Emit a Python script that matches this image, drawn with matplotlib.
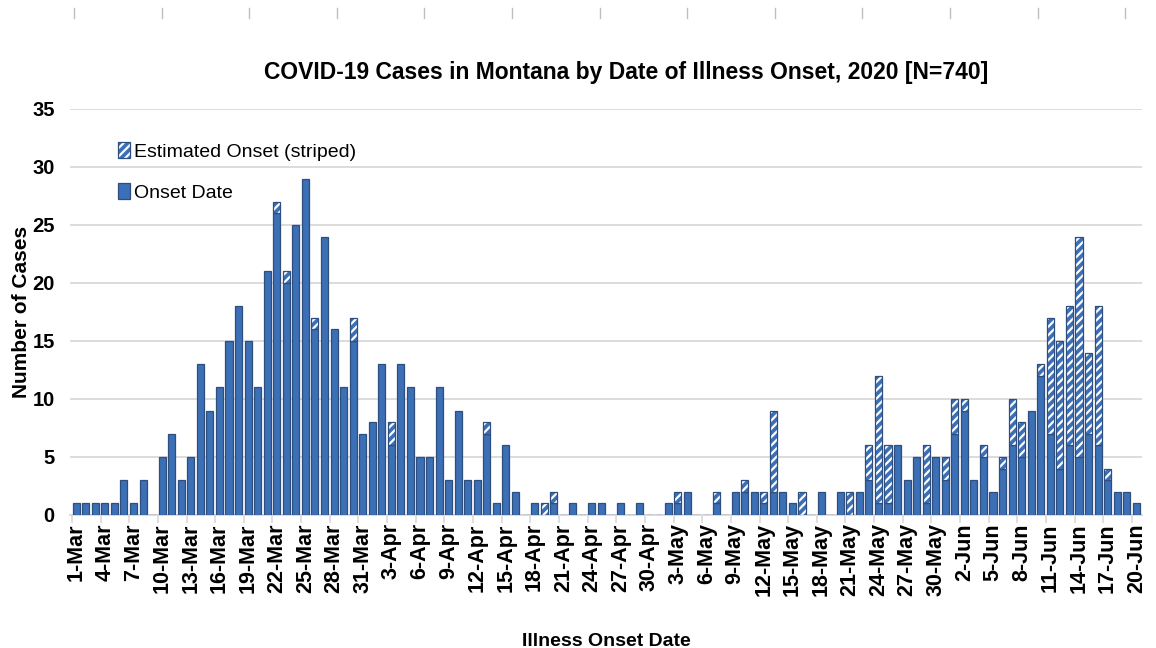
import matplotlib
matplotlib.use("Agg")
import matplotlib.pyplot as plt
import numpy as np
from matplotlib.patches import Patch
from matplotlib.lines import Line2D
from matplotlib.legend_handler import HandlerTuple
import datetime as dt

# ---- data ----
start_date = dt.date(2020, 3, 1)
n_days = 112
onset_known = [
    # March
    1, 1, 1, 1, 1, 3, 1, 3, 0, 5, 7, 3, 5, 13, 9, 11, 15, 18, 15, 11,
    21, 26, 20, 25, 29, 16, 24, 16, 11, 15, 7,
    # April
    8, 13, 6, 13, 11, 5, 5, 11, 3, 9, 3, 3, 7, 1, 6, 2, 0, 1, 0, 1,
    0, 1, 0, 1, 1, 0, 1, 0, 1, 0,
    # May
    0, 1, 1, 2, 0, 0, 1, 0, 2, 2, 2, 1, 2, 2, 1, 0, 0, 2, 0, 2,
    0, 2, 3, 1, 1, 6, 3, 5, 1, 5, 3,
    # June
    7, 9, 3, 5, 2, 4, 6, 5, 9, 12, 7, 4, 6, 5, 7, 6, 3, 2, 2, 1,
]
onset_estimated = [
    # March
    0, 0, 0, 0, 0, 0, 0, 0, 0, 0, 0, 0, 0, 0, 0, 0, 0, 0, 0, 0,
    0, 1, 1, 0, 0, 1, 0, 0, 0, 2, 0,
    # April
    0, 0, 2, 0, 0, 0, 0, 0, 0, 0, 0, 0, 1, 0, 0, 0, 0, 0, 1, 1,
    0, 0, 0, 0, 0, 0, 0, 0, 0, 0,
    # May
    0, 0, 1, 0, 0, 0, 1, 0, 0, 1, 0, 1, 7, 0, 0, 2, 0, 0, 0, 0,
    2, 0, 3, 11, 5, 0, 0, 0, 5, 0, 2,
    # June
    3, 1, 0, 1, 0, 1, 4, 3, 0, 1, 10, 11, 12, 19, 7, 12, 1, 0, 0, 0,
]
dates = [start_date + dt.timedelta(days=i) for i in range(n_days)]
date_labels = [f"{d.day}-{d.strftime('%b')}" for d in dates]

title = "COVID-19 Cases in Montana by Date of Illness Onset, 2020 [N=740]"
y_label = "Number of Cases"
x_label = "Illness Onset Date"
legend_labels = ["Estimated Onset (striped)", "Onset Date"]

# ---- style ----
BLUE = "#3B6FB6"
EDGE = "#2E4E7E"
GRID = "#D9D9D9"
FONT = ["Liberation Sans", "DejaVu Sans"]
plt.rcParams["hatch.linewidth"] = 1.6

fig = plt.figure(figsize=(11.56, 6.48), dpi=100)
ax = fig.add_axes([70 / 1156, 133 / 648, (1142 - 70) / 1156, (539 - 133) / 648])

x = np.arange(n_days)
known = np.array(onset_known)
est = np.array(onset_estimated)
w = 0.74

ax.bar(x, known, width=w, color=BLUE, edgecolor=EDGE, linewidth=0.9, zorder=3)
ax.bar(x, est, width=w, bottom=known, color=BLUE, edgecolor="white",
       hatch="////", linewidth=0, zorder=3)
mask = est > 0
ax.bar(x[mask], est[mask], width=w, bottom=known[mask], facecolor="none",
       edgecolor=EDGE, linewidth=0.9, zorder=4)

ax.set_xlim(-0.65, 111.6)
ax.set_ylim(0, 35)
ax.set_yticks(range(0, 36, 5))
ax.yaxis.grid(True, color=GRID, linewidth=1.3, zorder=0)
ax.set_axisbelow(True)
for s in ["top", "right", "left"]:
    ax.spines[s].set_visible(False)
ax.spines["bottom"].set_color(GRID)
ax.spines["bottom"].set_linewidth(1.3)

tick_idx = list(range(0, n_days, 3))
ax.set_xticks(tick_idx)
ax.set_xticklabels([date_labels[i] for i in tick_idx], rotation=90,
                   family=FONT, fontweight="bold", fontsize=15.5)
ax.tick_params(axis="x", length=0, pad=6)
ax.set_xticks([i - 0.45 for i in tick_idx], minor=True)
ax.tick_params(axis="x", which="minor", length=6, color=GRID, width=1.2)
ax.tick_params(axis="y", length=0, pad=11)
for lab in ax.get_yticklabels():
    lab.set_family(FONT)
    lab.set_fontweight("bold")
    lab.set_fontsize(14.5)

ax.set_ylabel(y_label, family=FONT, fontweight="bold", fontsize=15, labelpad=1)
ax.set_xlabel(x_label, family=FONT, fontweight="bold", fontsize=14, labelpad=26)
fig.text(626 / 1156, 1 - 72 / 648, title, family=FONT, fontweight="bold",
         fontsize=16.5, ha="center", va="center")

h_est = (Patch(facecolor=BLUE, edgecolor="white", hatch="////", linewidth=0),
         Patch(facecolor="none", edgecolor=EDGE, linewidth=0.9))
h_on = Patch(facecolor=BLUE, edgecolor=EDGE, linewidth=0.9)
leg = ax.legend([h_est, h_on], legend_labels, loc="upper left",
                bbox_to_anchor=(0.0285, 0.962), frameon=False,
                prop={"family": FONT, "size": 14}, handlelength=0.6,
                handleheight=0.9, handletextpad=0.2, labelspacing=1.15,
                handler_map={tuple: HandlerTuple(ndivide=1)})

# ruler-like marks at the top of the image
for k in range(13):
    xp = (74 + k * 87.6) / 1156
    fig.add_artist(Line2D([xp, xp], [1 - 8 / 648, 1 - 18 / 648],
                          color="#BFBFBF", linewidth=1, transform=fig.transFigure))

fig.savefig("out.png", dpi=100, facecolor="white")
